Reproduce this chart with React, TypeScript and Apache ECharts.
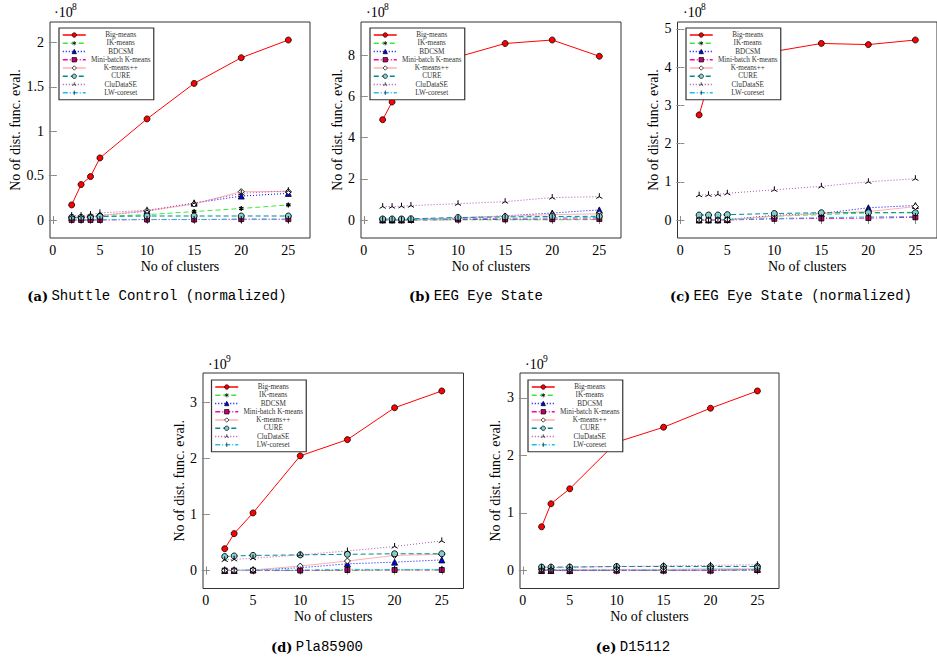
import React, { useEffect, useRef } from 'react';
import * as echarts from 'echarts';

// ---------- data ----------
const seriesNames = [
  'Big-means',
  'IK-means',
  'BDCSM',
  'Mini-batch K-means',
  'K-means++',
  'CURE',
  'CluDataSE',
  'LW-coreset',
];

const clustersABC = [2, 3, 4, 5, 10, 15, 20, 25];
const clustersDE = [2, 3, 5, 10, 15, 20, 25];
const xTicks = [0, 5, 10, 15, 20, 25];

// (a) Shuttle Control (normalized), values x 1e8, rows follow seriesNames
const shuttleNormValues = [
  [0.17, 0.4, 0.49, 0.7, 1.14, 1.54, 1.83, 2.03],
  [0.02, 0.02, 0.03, 0.04, 0.06, 0.095, 0.13, 0.17],
  [0.03, 0.03, 0.03, 0.05, 0.1, 0.19, 0.27, 0.3],
  [0.0, 0.0, 0.0, 0.0, 0.005, 0.005, 0.01, 0.01],
  [0.03, 0.03, 0.04, 0.05, 0.105, 0.18, 0.32, 0.32],
  [0.03, 0.03, 0.035, 0.04, 0.045, 0.045, 0.045, 0.045],
  [0.05, 0.05, 0.06, 0.08, 0.11, 0.19, 0.3, 0.33],
  [0.0, 0.0, 0.0, 0.005, 0.005, 0.005, 0.005, 0.005],
];
// (b) EEG Eye State, x 1e8
const eegValues = [
  [4.87, 5.73, 6.6, 7.1, 7.92, 8.57, 8.74, 7.95],
  [0.0, 0.0, 0.0, 0.0, 0.01, 0.01, 0.01, 0.02],
  [0.0, 0.0, 0.0, 0.03, 0.1, 0.2, 0.34, 0.49],
  [0.0, 0.0, 0.0, 0.0, 0.02, 0.03, 0.04, 0.05],
  [0.0, 0.0, 0.0, 0.02, 0.1, 0.18, 0.26, 0.3],
  [0.05, 0.05, 0.05, 0.06, 0.12, 0.15, 0.17, 0.18],
  [0.65, 0.65, 0.67, 0.7, 0.79, 0.89, 1.09, 1.13],
  [0.0, 0.0, 0.0, 0.02, 0.06, 0.08, 0.1, 0.12],
];
// (c) EEG Eye State (normalized), x 1e8
const eegNormValues = [
  [2.75, 3.6, 3.9, 4.1, 4.41, 4.62, 4.59, 4.71],
  [0.0, 0.0, 0.0, 0.01, 0.1, 0.14, 0.19, 0.2],
  [0.0, 0.0, 0.0, 0.01, 0.12, 0.17, 0.32, 0.38],
  [0.0, 0.0, 0.0, 0.0, 0.03, 0.04, 0.05, 0.07],
  [0.0, 0.0, 0.0, 0.01, 0.1, 0.17, 0.22, 0.35],
  [0.13, 0.13, 0.13, 0.14, 0.17, 0.19, 0.19, 0.19],
  [0.65, 0.66, 0.67, 0.7, 0.79, 0.88, 1.0, 1.08],
  [0.0, 0.0, 0.0, 0.01, 0.04, 0.06, 0.08, 0.09],
];
// (d) Pla85900, x 1e9
const plaValues = [
  [0.39, 0.66, 1.03, 2.05, 2.34, 2.91, 3.21],
  [0.0, 0.0, 0.0, 0.0, 0.0, 0.01, 0.01],
  [0.0, 0.0, 0.01, 0.05, 0.12, 0.15, 0.19],
  [0.0, 0.0, 0.0, 0.0, 0.01, 0.01, 0.01],
  [0.0, 0.0, 0.01, 0.08, 0.17, 0.27, 0.29],
  [0.25, 0.26, 0.27, 0.28, 0.29, 0.3, 0.3],
  [0.19, 0.2, 0.22, 0.28, 0.35, 0.43, 0.53],
  [0.01, 0.01, 0.01, 0.01, 0.02, 0.02, 0.02],
];
// (e) D15112, x 1e9
const d15112Values = [
  [0.76, 1.16, 1.42, 2.23, 2.49, 2.82, 3.12],
  [0.0, 0.0, 0.0, 0.0, 0.0, 0.01, 0.01],
  [0.0, 0.0, 0.0, 0.01, 0.01, 0.01, 0.02],
  [0.0, 0.0, 0.0, 0.0, 0.0, 0.0, 0.01],
  [0.02, 0.02, 0.02, 0.02, 0.02, 0.03, 0.03],
  [0.06, 0.06, 0.06, 0.07, 0.07, 0.07, 0.07],
  [0.05, 0.05, 0.06, 0.07, 0.08, 0.09, 0.1],
  [0.01, 0.01, 0.01, 0.01, 0.01, 0.01, 0.01],
];

const yTicksA = [0, 0.5, 1, 1.5, 2];
const yTicksB = [0, 2, 4, 6, 8];
const yTicksC = [0, 1, 2, 3, 4, 5];
const yTicksD = [0, 1, 2, 3];
const yTicksE = [0, 1, 2, 3];

const captionLabels = ['(a)', '(b)', '(c)', '(d)', '(e)'];
const captionTitles = [
  'Shuttle Control (normalized)',
  'EEG Eye State',
  'EEG Eye State (normalized)',
  'Pla85900',
  'D15112',
];
const exponents = ['8', '8', '8', '9', '9'];

const xAxisTitle = 'No of clusters';
const yAxisTitle = 'No of dist. func. eval.';

// ---------- layout & styles ----------
const panelData = [
  { x: clustersABC, v: shuttleNormValues, yt: yTicksA },
  { x: clustersABC, v: eegValues, yt: yTicksB },
  { x: clustersABC, v: eegNormValues, yt: yTicksC },
  { x: clustersDE, v: plaValues, yt: yTicksD },
  { x: clustersDE, v: d15112Values, yt: yTicksE },
];

const layouts = [
  { left: 50, top: 22, width: 260, height: 216, lgL: 59, lgT: 28, yGap: 25, expX: 54, expY: 12, capX: 157, capY: 296 },
  { left: 361, top: 22, width: 260, height: 216, lgL: 370, lgT: 28, yGap: 17, expX: 366, expY: 12, capX: 476, capY: 296 },
  { left: 677.5, top: 22, width: 259.5, height: 216, lgL: 686, lgT: 28, yGap: 17, expX: 683, expY: 12, capX: 791, capY: 296 },
  { left: 203, top: 373, width: 260.5, height: 215.5, lgL: 211.5, lgT: 380, yGap: 14, expX: 208, expY: 364, capX: 317, capY: 647 },
  { left: 520, top: 373, width: 259, height: 215.5, lgL: 528, lgT: 380, yGap: 18, expX: 525, expY: 364, capX: 633, capY: 647 },
];

const SERIF = "'Liberation Serif', 'DejaVu Serif', serif";
const MONO = "'Liberation Mono', 'DejaVu Sans Mono', monospace";

// invisible zero-length segments at the corners keep the symbols square
const asteriskPath =
  'path://M0,-1L0,1M-0.866,-0.5L0.866,0.5M-0.866,0.5L0.866,-0.5M-1,-1L-1,-1M1,1L1,1';
const triPath = 'path://M0,0L0,-1M0,0L-0.866,0.5M0,0L0.866,0.5M-1,-1L-1,-1M1,1L1,1';
const barPath = 'path://M0,-1L0,1M-1,-1L-1,-1M1,1L1,1';

const seriesStyles = [
  { color: '#ff0000', dash: 'solid', symbol: 'circle', fill: '#ff0000', size: 6, bw: 0.8 },
  { color: '#3de83d', dash: [5, 3], symbol: asteriskPath, fill: '#000', size: 5, bw: 1.3 },
  { color: '#0000ff', dash: [1, 2], symbol: 'triangle', fill: '#0000ff', size: 6, bw: 0.8 },
  { color: '#ff00aa', dash: [5, 2, 1, 2], symbol: 'rect', fill: '#c8006e', size: 5, bw: 0.8 },
  { color: '#ffb0b0', dash: 'solid', symbol: 'diamond', fill: '#ffffff', size: 6, bw: 0.9 },
  { color: '#008b8b', dash: [5, 3], symbol: 'circle', fill: '#7fd0d0', size: 6, bw: 0.9 },
  { color: '#b050b0', dash: [1, 2], symbol: triPath, fill: '#000', size: 7, bw: 1 },
  { color: '#22bbee', dash: [5, 2, 1, 2], symbol: barPath, fill: '#000', size: 7, bw: 1 },
];

function yRange(values: number[][]) {
  const all = values.flat();
  const lo = Math.min(...all);
  const hi = Math.max(...all);
  const pad = 0.1 * (hi - lo);
  return [lo - pad, hi + pad];
}

function buildOption() {
  const grid: any[] = [];
  const xAxis: any[] = [];
  const yAxis: any[] = [];
  const series: any[] = [];
  const legend: any[] = [];
  const graphic: any[] = [];

  const tickStyle = { color: '#8a8a8a', width: 1 };

  panelData.forEach((p, i) => {
    const L = layouts[i];
    grid.push({
      left: L.left,
      top: L.top,
      width: L.width,
      height: L.height,
      show: true,
      borderColor: '#333',
      borderWidth: 1,
      backgroundColor: 'transparent',
      containLabel: false,
      outerBoundsMode: 'none',
    });
    const xmin = Math.min(...p.x);
    const xmax = Math.max(...p.x);
    const xpad = 0.1 * (xmax - xmin);
    const [ymin, ymax] = yRange(p.v);

    xAxis.push({
      gridIndex: i,
      type: 'value',
      position: 'bottom',
      min: xmin - xpad,
      max: xmax + xpad,
      axisLine: { show: false },
      splitLine: { show: false },
      axisTick: { show: true, inside: true, length: 4, customValues: xTicks, lineStyle: tickStyle },
      axisLabel: { show: true, customValues: xTicks, fontSize: 14, fontFamily: SERIF, color: '#000', margin: 5 },
      name: xAxisTitle,
      nameLocation: 'middle',
      nameGap: 21,
      nameTextStyle: { fontSize: 14, fontFamily: SERIF, color: '#000' },
    });
    xAxis.push({
      gridIndex: i,
      type: 'value',
      position: 'top',
      min: xmin - xpad,
      max: xmax + xpad,
      axisLine: { show: false },
      splitLine: { show: false },
      axisTick: { show: true, inside: true, length: 4, customValues: xTicks, lineStyle: tickStyle },
      axisLabel: { show: false },
    });
    yAxis.push({
      gridIndex: i,
      type: 'value',
      position: 'left',
      min: ymin,
      max: ymax,
      axisLine: { show: false },
      splitLine: { show: false },
      axisTick: { show: true, inside: true, length: 4, customValues: p.yt, lineStyle: tickStyle },
      axisLabel: { show: true, customValues: p.yt, fontSize: 14, fontFamily: SERIF, color: '#000', margin: 6 },
      name: yAxisTitle,
      nameLocation: 'middle',
      nameGap: L.yGap,
      nameTextStyle: { fontSize: 14, fontFamily: SERIF, color: '#000' },
    });
    yAxis.push({
      gridIndex: i,
      type: 'value',
      position: 'right',
      min: ymin,
      max: ymax,
      axisLine: { show: false },
      splitLine: { show: false },
      axisTick: { show: true, inside: true, length: 4, customValues: p.yt, lineStyle: tickStyle },
      axisLabel: { show: false },
    });

    seriesNames.forEach((name, j) => {
      const s = seriesStyles[j];
      series.push({
        type: 'line',
        name,
        xAxisIndex: 2 * i,
        yAxisIndex: 2 * i,
        data: p.x.map((xx, k) => [xx, p.v[j][k]]),
        symbol: s.symbol,
        symbolSize: s.size,
        symbolKeepAspect: true,
        showAllSymbol: true,
        lineStyle: { color: s.color, width: 1, type: s.dash },
        itemStyle: { color: s.fill, borderColor: '#000', borderWidth: s.bw },
        emphasis: { disabled: true },
        z: 2,
      });
    });

    legend.push({
      orient: 'vertical',
      left: L.lgL,
      top: L.lgT,
      itemWidth: 23,
      itemHeight: 5.5,
      itemGap: 0.25,
      padding: [3, 3, 3, 3],
      borderColor: '#333',
      borderWidth: 1.2,
      backgroundColor: '#ffffff',
      selectedMode: false,
      data: seriesNames,
      lineStyle: { width: 1.5 },
      itemStyle: { borderWidth: 0.7 },
      formatter: (n: string) => `{c|${n}}`,
      textStyle: {
        color: '#333',
        fontSize: 7,
        fontFamily: SERIF,
        lineHeight: 8,
        rich: {
          c: { width: 60, align: 'center', fontSize: 7.2, fontFamily: SERIF, color: '#333', lineHeight: 8 },
        },
      },
      z: 10,
    });

    graphic.push({
      type: 'text',
      x: L.capX,
      y: L.capY,
      style: {
        text: `{b|${captionLabels[i]}} {t|${captionTitles[i]}}`,
        align: 'center',
        verticalAlign: 'middle',
        rich: {
          b: { fontFamily: "'DejaVu Serif', serif", fontWeight: 'bold', fontSize: 13, fill: '#000' },
          t: { fontFamily: MONO, fontSize: 14, fill: '#000' },
        },
      },
    });
    graphic.push({
      type: 'text',
      x: L.expX,
      y: L.expY,
      style: {
        text: '·10',
        fontFamily: SERIF,
        fontSize: 14,
        fill: '#000',
        align: 'left',
        verticalAlign: 'middle',
      },
    });
    graphic.push({
      type: 'text',
      x: L.expX + 18,
      y: L.expY - 5,
      style: {
        text: exponents[i],
        fontFamily: SERIF,
        fontSize: 9.5,
        fill: '#000',
        align: 'left',
        verticalAlign: 'middle',
      },
    });
  });

  return {
    animation: false,
    backgroundColor: '#ffffff',
    grid,
    xAxis,
    yAxis,
    series,
    legend,
    graphic,
  };
}

export default function App() {
  const ref = useRef<HTMLDivElement>(null);
  useEffect(() => {
    if (!ref.current) return;
    const chart = echarts.init(ref.current, undefined, { renderer: 'svg' });
    chart.setOption(buildOption() as any);
    return () => chart.dispose();
  }, []);
  return (
    <div
      ref={ref}
      style={{ position: 'fixed', left: 0, top: 0, width: 937, height: 664, background: '#fff' }}
    />
  );
}
